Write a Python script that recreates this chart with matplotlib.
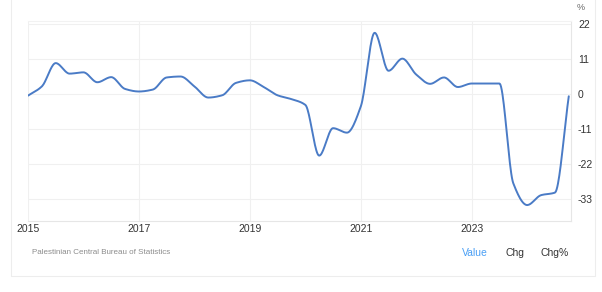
import numpy as np
import matplotlib
matplotlib.use("Agg")
import matplotlib.pyplot as plt
from matplotlib.patches import Rectangle

plt.rcParams['font.family'] = ['Liberation Sans', 'DejaVu Sans']

# quarterly YoY change (%), first point at start of 2015
start_year = 2015.0
values = [
    -0.6, 2.3, 9.6, 6.3,
    6.7, 3.6, 5.2, 1.5,
    0.7, 1.3, 5.1, 5.4,
    2.3, -1.2, -0.5, 3.4,
    4.2, 2.1, -0.5, -1.7,
    -3.5, -19.4, -10.8, -12.2,
    -4.0, 19.1, 7.2, 11.0,
    6.0, 3.1, 5.1, 2.1,
    3.2, 3.2, 3.2, -28.1,
    -34.9, -31.8, -31.0, -0.8,
]
ytick_vals = [22, 11, 0, -11, -22, -33]
xtick_years = [2015, 2017, 2019, 2021, 2023]
source = "Palestinian Central Bureau of Statistics"
buttons = ["Value", "Chg", "Chg%"]


def pchip(x, y, xs):
    # monotone cubic so the line is smooth but does not overshoot
    x = np.asarray(x, float)
    y = np.asarray(y, float)
    h = np.diff(x)
    d = np.diff(y) / h
    m = np.zeros_like(y)
    for k in range(1, len(y) - 1):
        if d[k - 1] * d[k] > 0:
            w1 = 2 * h[k] + h[k - 1]
            w2 = h[k] + 2 * h[k - 1]
            m[k] = (w1 + w2) / (w1 / d[k - 1] + w2 / d[k])
    m[0] = d[0]
    m[-1] = d[-1]
    idx = np.clip(np.searchsorted(x, xs) - 1, 0, len(h) - 1)
    t = (xs - x[idx]) / h[idx]
    h00 = 2 * t**3 - 3 * t**2 + 1
    h10 = t**3 - 2 * t**2 + t
    h01 = -2 * t**3 + 3 * t**2
    h11 = t**3 - t**2
    return (h00 * y[idx] + h10 * h[idx] * m[idx]
            + h01 * y[idx + 1] + h11 * h[idx] * m[idx + 1])


dates = start_year + 0.25 * np.arange(len(values))
xs = np.linspace(dates[0], dates[-1], 800)
ys = pchip(dates, values, xs)

W, H = 602, 292
fig = plt.figure(figsize=(W / 100, H / 100), dpi=100)
fig.patch.set_facecolor("white")

# faint outer card border (top edge lies above the crop)
fig.add_artist(Rectangle((11 / W, 1 - 276 / H), 584 / W, 280 / H,
                         transform=fig.transFigure, fill=False,
                         edgecolor="#ededed", linewidth=0.8))

ax = fig.add_axes([28 / W, 1 - 221 / H, 543 / W, 200 / H])
ax.plot(xs, ys, color="#4a7bc6", linewidth=1.4, solid_capstyle="round")

ax.set_xlim(2015.0, 2024.79)
ax.set_ylim(-39.9, 22.8)

ax.set_yticks(ytick_vals)
ax.set_yticklabels([str(v) for v in ytick_vals])
ax.yaxis.tick_right()
ax.set_xticks(xtick_years)
ax.set_xticklabels([str(v) for v in xtick_years])
ax.tick_params(axis="both", length=0, labelsize=7.5, labelcolor="#333333")
ax.tick_params(axis="y", pad=5)
ax.tick_params(axis="x", pad=2)

ax.grid(True, color="#f0f0f0", linewidth=0.8)
ax.set_axisbelow(True)
ax.spines["left"].set_visible(False)
ax.spines["top"].set_color("#f2f2f2")
ax.spines["right"].set_color("#e6e6e6")
ax.spines["bottom"].set_color("#e6e6e6")

fig.text(581 / W, 1 - 8 / H, "%", fontsize=6.5, color="#666666",
         ha="center", va="center")

fig.text(32 / W, 1 - 253 / H, source, fontsize=5.8, color="#8c8c8c",
         ha="left", va="center")
btn_x = [475, 515, 554.5]
btn_c = ["#4a9ff5", "#333333", "#333333"]
for label, bx, c in zip(buttons, btn_x, btn_c):
    fig.text(bx / W, 1 - 253 / H, label, fontsize=7.5, color=c,
             ha="center", va="center")

fig.savefig("out.png", dpi=100)
